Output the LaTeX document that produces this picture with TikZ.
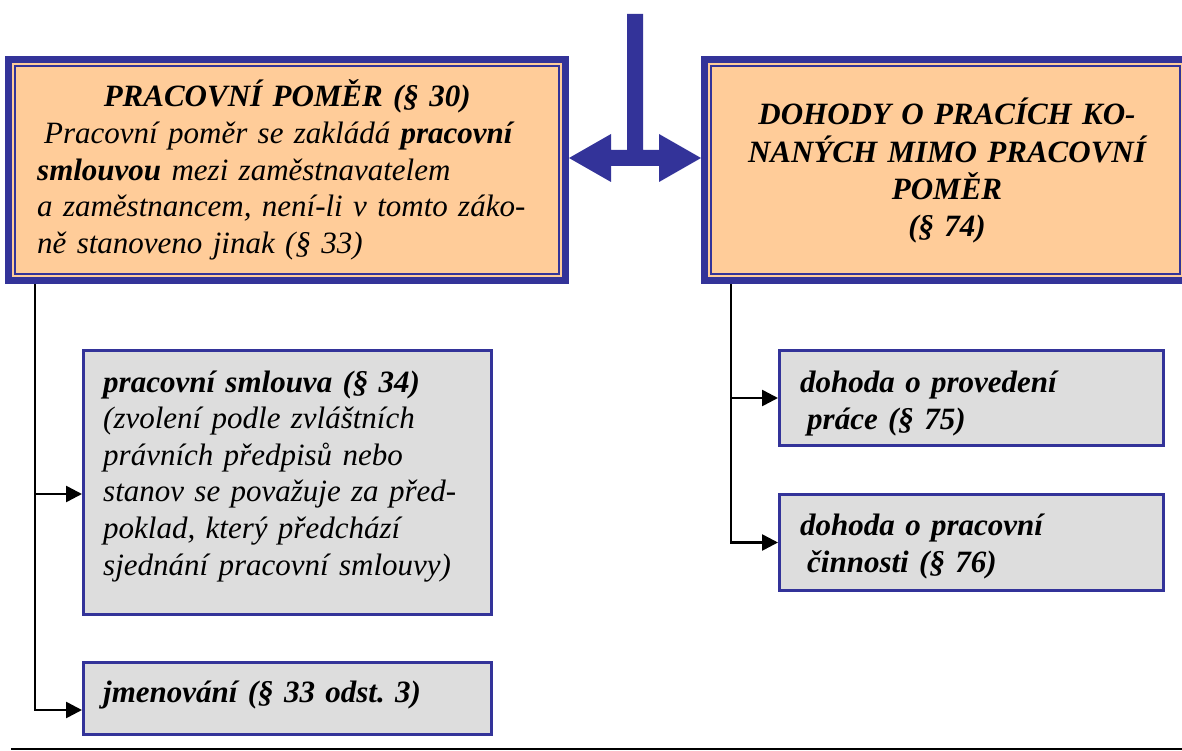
\documentclass[tikz,border=0pt]{standalone}
\usepackage{fontspec}
\setmainfont{Liberation Serif}
\usetikzlibrary{arrows.meta}
\definecolor{dblue}{HTML}{333399}
\definecolor{peach}{HTML}{FFCC99}
\definecolor{lgray}{HTML}{DDDDDD}
\frenchspacing
\begin{document}
\begin{tikzpicture}[x=1pt,y=-1pt,
  bigbox/.style={draw=dblue, line width=7pt, fill=peach, minimum height=221pt, inner sep=0pt},
  innerline/.style={draw=dblue, line width=1.8pt},
  smallbox/.style={draw=dblue, line width=3pt, fill=lgray, inner sep=0pt},
  txt/.style={inner sep=0pt, font=\fontsize{31}{36.6}\selectfont\itshape},
  btxt/.style={inner sep=0pt, font=\fontsize{31}{37.3}\selectfont\bfseries\itshape},
  conn/.style={line width=2.6pt, black},
  arr/.style={conn, -{Triangle[length=16pt,width=16pt]}},
  fatarrow/.style={fill=dblue},
]
\useasboundingbox (0,0) rectangle (1182,751);
\clip (0,0) rectangle (1182,751);

% big boxes
\node[bigbox, minimum width=557pt] (pp) at (287,170) {};
\node[bigbox, minimum width=482pt] (dd) at (945.5,170) {};
\draw[innerline] ([xshift=10pt,yshift=-10pt]pp.north west) rectangle ([xshift=-10pt,yshift=10pt]pp.south east);
\draw[innerline] ([xshift=10pt,yshift=-10pt]dd.north west) rectangle ([xshift=-10pt,yshift=10pt]dd.south east);

\node[txt, anchor=base west, text width=500pt, align=left] (ppt) at (37,107)
  {{\centering\bfseries PRACOVNÍ POMĚR (§ 30)\par}\hspace*{7pt}Pracovní poměr se zakládá \textbf{pracovní}\\
   \textbf{smlouvou} mezi zaměstnavatelem\\
   a zaměstnancem, není-li v tomto záko-\\
   ně stanoveno jinak (§ 33)};

\node[btxt, anchor=base, text width=480pt, align=center] (ddt) at (947,125)
  {DOHODY O PRACÍCH KO-\\NANÝCH MIMO PRACOVNÍ\\POMĚR\\(§ 74)};

% small boxes
\node[smallbox, minimum width=408pt, minimum height=264pt] (ps) at (287.5,482.5) {};
\node[smallbox, minimum width=408pt, minimum height=72pt] (jm) at (287.5,698.5) {};
\node[smallbox, minimum width=384pt, minimum height=95pt] (dp) at (971.5,398) {};
\node[smallbox, minimum width=384pt, minimum height=96pt] (dc) at (971.5,542.5) {};

\node[txt, anchor=base west, text width=385pt, align=left] (pst) at (103,392)
  {\textbf{pracovní smlouva (§ 34)}\\
   (zvolení podle zvláštních\\
   právních předpisů nebo\\
   stanov se považuje za před-\\
   poklad, který předchází\\
   sjednání pracovní smlouvy)};
\node[btxt, anchor=base west, text width=385pt, align=left] (jmt) at (103,702)
  {jmenování (§ 33 odst. 3)};
\node[btxt, anchor=base west, text width=360pt, align=left] (dpt) at (800,392)
  {dohoda o provedení\\\hspace*{7pt}práce (§ 75)};
\node[btxt, anchor=base west, text width=360pt, align=left] (dct) at (800,535)
  {dohoda o pracovní\\\hspace*{7pt}činnosti (§ 76)};

% fat double arrow with stem
\coordinate (L) at ([yshift=12pt]pp.east);
\coordinate (R) at ([yshift=12pt]dd.west);
\fill[fatarrow] (L) -- ++(42,-24) -- ++(0,16) -- ++(16,0) -- ++(0,-136) -- ++(16,0)
  -- ++(0,136) -- ++(16,0) -- ++(0,-16) -- (R) -- ++(-42,24) -- ++(0,-16)
  -- ++(-48,0) -- ++(0,16) -- cycle;

% connectors left
\coordinate (lt) at ([xshift=30pt]pp.south west);
\coordinate (a1) at ([yshift=-11.5pt]ps.west);
\coordinate (a2) at ([yshift=-11.5pt]jm.west);
\draw[arr] (lt) |- (a2);
\draw[arr] (a1 -| lt) -- (a1);

% connectors right
\coordinate (rt) at ([xshift=30pt]dd.south west);
\draw[arr] (rt) |- (dc.west);
\draw[arr] (dp.west -| rt) -- (dp.west);

% bottom rule
\coordinate (bl) at (11,749);
\coordinate (br) at (1182,749);
\draw[conn] (bl) -- (br);
\end{tikzpicture}
\end{document}
